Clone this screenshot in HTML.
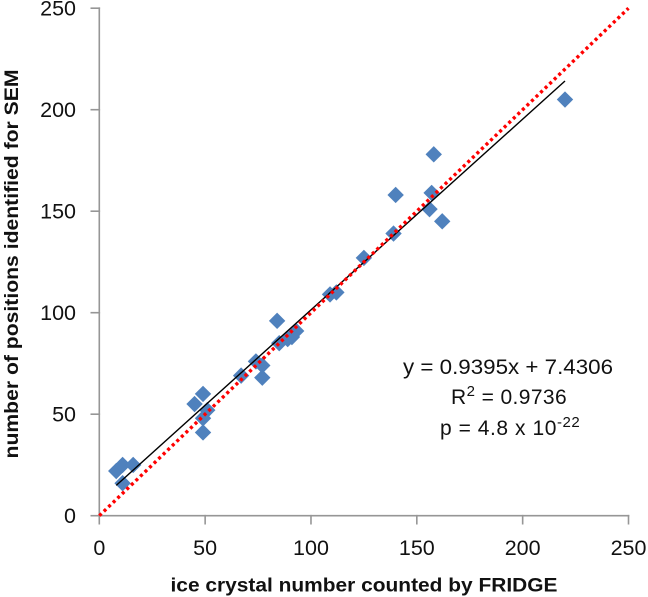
<!DOCTYPE html>
<html>
<head>
<meta charset="utf-8">
<style>
html,body{margin:0;padding:0;background:#fff;width:648px;height:597px;overflow:hidden}
svg{display:block;font-family:"Liberation Sans",sans-serif}
</style>
</head>
<body>
<svg id="chart" width="648" height="597" viewBox="0 0 648 597" xmlns="http://www.w3.org/2000/svg">
  <rect width="648" height="597" fill="#fff"/>
  <g id="axes"></g>
  <g id="marks"></g>
  <g id="lines"></g>
  <text x="364" y="591.5" text-anchor="middle" font-size="19.5" font-weight="bold" fill="#111" textLength="387" lengthAdjust="spacingAndGlyphs">ice crystal number counted by FRIDGE</text>
  <text transform="translate(18 264) rotate(-90)" text-anchor="middle" font-size="19.5" font-weight="bold" fill="#111" textLength="389" lengthAdjust="spacingAndGlyphs">number of positions identified for SEM</text>
  <text x="508" y="374" text-anchor="middle" font-size="21" fill="#111" textLength="210" lengthAdjust="spacingAndGlyphs">y = 0.9395x + 7.4306</text>
  <text x="451" y="404" font-size="21" letter-spacing="0.4" fill="#111">R<tspan font-size="15" dy="-8">2</tspan><tspan dy="8"> = 0.9736</tspan></text>
  <text x="440" y="435" font-size="21" letter-spacing="0.55" fill="#111">p = 4.8 x 10<tspan font-size="15" dy="-8">-22</tspan></text>
</svg>
<script>
const xValues = [220,158,140,157,156,162,139,125,109,112,84,85,89,91,93,74,77,67,77,49,45,51,49,49,11,8,11,16];
const yValues = [205,178,158,159,151,145,139,127,109,110,96,85,87,88,91,76,74,69,68,60,55,52,48,41,16,22,25,25];
const xTicks = [0,50,100,150,200,250];
const yTicks = [0,50,100,150,200,250];
const trendSlope = 0.9395;
const trendIntercept = 7.4306;
const trendRange = [8,220];
const oneToOneRange = [0,250];

const NS = 'http://www.w3.org/2000/svg';
const X0 = 99.3, X1 = 628.5, Y0 = 515.7, Y1 = 8.2;
const sx = v => X0 + (v - 0) * (X1 - X0) / 250;
const sy = v => Y0 - (v - 0) * (Y0 - Y1) / 250;
function mk(tag, attrs, parent){
  const e = document.createElementNS(NS, tag);
  for (const k in attrs) e.setAttribute(k, attrs[k]);
  parent.appendChild(e);
  return e;
}
const axes = document.getElementById('axes');
const marks = document.getElementById('marks');
const lines = document.getElementById('lines');
const axisStyle = {stroke:'#969696','stroke-width':1.6,fill:'none','stroke-linecap':'square'};

const xAxisLine = mk('line', Object.assign({x1:sx(0),x2:sx(250),y1:sy(0),y2:sy(0)},axisStyle), axes);


const yAxisLine = mk('line', Object.assign({x1:sx(0),x2:sx(0),y1:sy(0),y2:sy(250)},axisStyle), axes);



xTicks.forEach(t => {
  const tick = mk('line', Object.assign({x1:sx(t),x2:sx(t),y1:sy(0),y2:sy(0)+8},axisStyle), axes);
  
  
  const label = mk('text', {x:sx(t),y:555,'text-anchor':'middle','font-size':21.5,fill:'#111'}, axes);
  
  
  label.textContent = t;
});
yTicks.forEach(t => {
  const tick = mk('line', Object.assign({x1:sx(0)-8,x2:sx(0),y1:sy(t),y2:sy(t)},axisStyle), axes);
  
  
  const label = mk('text', {x:76,y:sy(t)+7.5,'text-anchor':'end','font-size':21.5,fill:'#111'}, axes);
  
  
  label.textContent = t;
});

xValues.forEach((xv, i) => {
  const cx = sx(xv), cy = sy(yValues[i]), r = 8.2;
  const p = mk('polygon', {points:[[cx,cy-r],[cx+r,cy],[cx,cy+r],[cx-r,cy]].map(a=>a.join(',')).join(' '),fill:'#4f81bd'}, marks);
  
  
});

const trend = mk('line', {
  x1:sx(trendRange[0]),y1:sy(trendSlope*trendRange[0]+trendIntercept),
  x2:sx(trendRange[1]),y2:sy(trendSlope*trendRange[1]+trendIntercept),
  stroke:'#000','stroke-width':1.4
}, lines);



const oneToOne = mk('line', {
  x1:sx(oneToOneRange[0]),y1:sy(oneToOneRange[0]),
  x2:sx(oneToOneRange[1]),y2:sy(oneToOneRange[1]),
  stroke:'#ff0000','stroke-width':3.4,'stroke-dasharray':'3.1 3.2'
}, lines);


</script>
</body>
</html>
